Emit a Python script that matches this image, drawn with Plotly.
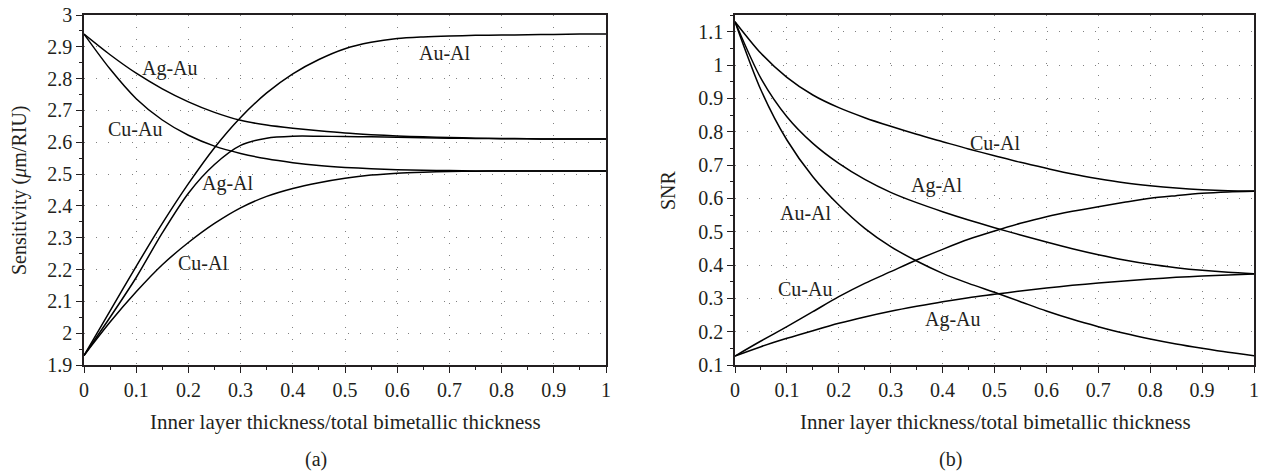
import plotly.graph_objects as go

# ---------------- data ----------------
x_ratio = [0, 0.05, 0.1, 0.15, 0.2, 0.25, 0.3, 0.35, 0.4, 0.45, 0.5,
           0.55, 0.6, 0.65, 0.7, 0.75, 0.8, 0.85, 0.9, 0.95, 1.0]

# (a) Sensitivity (um/RIU)
sens_ag_au = [2.94, 2.875, 2.817, 2.768, 2.727, 2.694, 2.669, 2.654, 2.644, 2.636, 2.629,
              2.624, 2.62, 2.617, 2.615, 2.613, 2.612, 2.611, 2.61, 2.61, 2.61]
sens_cu_au = [2.94, 2.83, 2.737, 2.67, 2.622, 2.588, 2.565, 2.548, 2.536, 2.527, 2.521,
              2.517, 2.514, 2.512, 2.511, 2.51, 2.51, 2.51, 2.51, 2.51, 2.51]
sens_au_al = [1.93, 2.07, 2.21, 2.345, 2.47, 2.583, 2.678, 2.755, 2.815, 2.86, 2.894,
              2.914, 2.926, 2.931, 2.934, 2.936, 2.937, 2.938, 2.939, 2.94, 2.94]
sens_ag_al = [1.93, 2.05, 2.175, 2.315, 2.44, 2.53, 2.59, 2.613, 2.619, 2.619, 2.618,
              2.617, 2.616, 2.614, 2.613, 2.612, 2.611, 2.611, 2.61, 2.61, 2.61]
sens_cu_al = [1.93, 2.035, 2.13, 2.215, 2.285, 2.345, 2.394, 2.43, 2.455, 2.473, 2.487,
              2.497, 2.503, 2.506, 2.508, 2.509, 2.51, 2.51, 2.51, 2.51, 2.51]

# (b) SNR
snr_cu_al = [1.13, 1.035, 0.963, 0.91, 0.872, 0.842, 0.816, 0.792, 0.77, 0.748, 0.728,
             0.708, 0.69, 0.673, 0.659, 0.647, 0.638, 0.631, 0.626, 0.623, 0.622]
snr_ag_al = [1.13, 0.96, 0.845, 0.765, 0.705, 0.657, 0.618, 0.587, 0.56, 0.535, 0.512,
             0.49, 0.469, 0.449, 0.431, 0.415, 0.402, 0.392, 0.384, 0.378, 0.374]
snr_au_al = [1.13, 0.925, 0.775, 0.665, 0.58, 0.51, 0.455, 0.412, 0.375, 0.345, 0.318,
             0.29, 0.262, 0.237, 0.215, 0.195, 0.178, 0.163, 0.15, 0.138, 0.128]
snr_cu_au = [0.127, 0.172, 0.215, 0.26, 0.305, 0.345, 0.38, 0.415, 0.447, 0.477, 0.502,
             0.525, 0.545, 0.561, 0.575, 0.588, 0.6, 0.608, 0.615, 0.619, 0.621]
snr_ag_au = [0.127, 0.155, 0.18, 0.203, 0.225, 0.244, 0.261, 0.276, 0.29, 0.302, 0.312,
             0.322, 0.331, 0.339, 0.346, 0.352, 0.358, 0.363, 0.367, 0.37, 0.373]

sens_series = {"Ag-Au": sens_ag_au, "Cu-Au": sens_cu_au, "Au-Al": sens_au_al,
               "Ag-Al": sens_ag_al, "Cu-Al": sens_cu_al}
snr_series = {"Cu-Al": snr_cu_al, "Ag-Al": snr_ag_al, "Au-Al": snr_au_al,
              "Cu-Au": snr_cu_au, "Ag-Au": snr_ag_au}

# tick values / labels
x_tickvals = [0, 0.1, 0.2, 0.3, 0.4, 0.5, 0.6, 0.7, 0.8, 0.9, 1.0]
x_ticktext = ["0", "0.1", "0.2", "0.3", "0.4", "0.5", "0.6", "0.7", "0.8", "0.9", "1"]

# curve label positions (data coordinates)
sens_labels = ["Ag-Au", "Cu-Au", "Ag-Al", "Au-Al", "Cu-Al"]
sens_label_x = [0.165, 0.098, 0.276, 0.692, 0.228]
sens_label_y = [2.833, 2.643, 2.47, 2.88, 2.22]
snr_labels = ["Cu-Al", "Ag-Al", "Au-Al", "Cu-Au", "Ag-Au"]
snr_label_x = [0.5, 0.39, 0.137, 0.135, 0.42]
snr_label_y = [0.767, 0.64, 0.556, 0.328, 0.238]

x_title = "Inner layer thickness/total bimetallic thickness"
y_title_a = "Sensitivity (<i>\u03bc</i>m/RIU)"
y_title_b = "SNR"

# ---------------- figure ----------------
FONT = "Liberation Serif"
INK = "#231f20"
fig = go.Figure()

for name, ys in sens_series.items():
    fig.add_trace(go.Scatter(x=x_ratio, y=ys, mode="lines", name=name,
                             line=dict(color="black", width=1.5, shape="spline", smoothing=0.8),
                             xaxis="x", yaxis="y", showlegend=False))
for name, ys in snr_series.items():
    fig.add_trace(go.Scatter(x=x_ratio, y=ys, mode="lines", name=name,
                             line=dict(color="black", width=1.5, shape="spline", smoothing=0.8),
                             xaxis="x2", yaxis="y2", showlegend=False))

def axis_style(**kw):
    d = dict(showline=True, linecolor=INK, linewidth=1.5, mirror=True,
             ticks="outside", ticklen=6, tickwidth=1.2, tickcolor=INK,
             showgrid=True, gridcolor="#808080", gridwidth=1.2, griddash="1px,11px",
             zeroline=False, tickfont=dict(family=FONT, size=20, color=INK),
             ticklabeloverflow="allow",
             minor=dict(ticks="outside", ticklen=3, tickwidth=1, tickcolor=INK,
                        dtick=0.05, showgrid=False))
    d.update(kw)
    return d

W, H = 1264, 475
ML, MR, MT, MB = 84, 10, 15, 110
PW = W - ML - MR
PH = H - MT - MB

def px_x(p):
    return (p - ML) / PW

def px_y(p):
    return (H - MB - p) / PH

fig.update_layout(
    width=W, height=H,
    margin=dict(l=ML, r=MR, t=MT, b=MB, autoexpand=False),
    paper_bgcolor="white", plot_bgcolor="white",
    xaxis=axis_style(domain=[0, px_x(606)], range=[0, 1], tickmode="array",
                     tickvals=x_tickvals, ticktext=x_ticktext, anchor="y"),
    yaxis=axis_style(domain=[0, 1], range=[1.9, 3.0], dtick=0.1, anchor="x"),
    xaxis2=axis_style(domain=[px_x(735), 1.0], range=[0, 1], tickmode="array",
                      tickvals=x_tickvals, ticktext=x_ticktext, anchor="y2"),
    yaxis2=axis_style(domain=[0, 1], range=[0.1, 1.15], tick0=0.1, dtick=0.1, anchor="x2"),
)

ann = []
lab_font = dict(family=FONT, size=20, color=INK)
for t, xx, yy in zip(sens_labels, sens_label_x, sens_label_y):
    ann.append(dict(x=xx, y=yy, xref="x", yref="y", text=t, showarrow=False, font=lab_font))
for t, xx, yy in zip(snr_labels, snr_label_x, snr_label_y):
    ann.append(dict(x=xx, y=yy, xref="x2", yref="y2", text=t, showarrow=False, font=lab_font))

title_font = dict(family=FONT, size=20, color=INK)
xt_font = dict(family=FONT, size=21, color=INK)
ann += [
    dict(x=px_x(19), y=0.5, xref="paper", yref="paper", text=y_title_a, textangle=-90,
         showarrow=False, font=title_font, xanchor="center", yanchor="middle"),
    dict(x=px_x(668), y=0.5, xref="paper", yref="paper", text=y_title_b, textangle=-90,
         showarrow=False, font=title_font, xanchor="center", yanchor="middle"),
    dict(x=px_x(345), y=px_y(422), xref="paper", yref="paper", text=x_title,
         showarrow=False, font=xt_font, xanchor="center", yanchor="middle"),
    dict(x=px_x(995), y=px_y(422), xref="paper", yref="paper", text=x_title,
         showarrow=False, font=xt_font, xanchor="center", yanchor="middle"),
    dict(x=px_x(316), y=px_y(459), xref="paper", yref="paper", text="(a)",
         showarrow=False, font=title_font, xanchor="center", yanchor="middle"),
    dict(x=px_x(950), y=px_y(459), xref="paper", yref="paper", text="(b)",
         showarrow=False, font=title_font, xanchor="center", yanchor="middle"),
]
fig.update_layout(annotations=ann)

# remove the default page margin so the figure sits at the window's top-left corner
fig.write_html("out.html",
               config={"displayModeBar": False},
               post_script="document.body.style.margin='0';"
                           "document.body.style.overflow='hidden';")
